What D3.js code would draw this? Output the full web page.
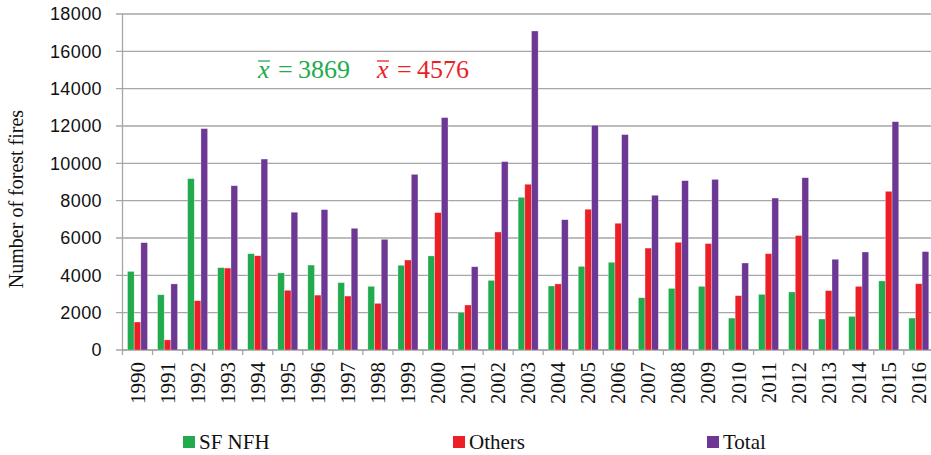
<!DOCTYPE html>
<html><head><meta charset="utf-8">
<script src="https://cdn.jsdelivr.net/npm/d3@7"></script>
<style>body{margin:0;background:#fff}svg{display:block}
.serif{font-family:'Liberation Serif','Times New Roman',serif}
.sans{font-family:'Liberation Sans',Arial,sans-serif}
</style>
</head><body>
<svg id="c" width="931" height="455"></svg>
<script>
const years = ["1990","1991","1992","1993","1994","1995","1996","1997","1998","1999","2000","2001","2002","2003","2004","2005","2006","2007","2008","2009","2010","2011","2012","2013","2014","2015","2016"];
const sfNfh  = [4210,2960,9180,4410,5160,4130,4550,3610,3410,4540,5040,2020,3730,8180,3430,4480,4700,2800,3300,3410,1710,2980,3110,1660,1800,3700,1710];
const others = [1500,540,2640,4390,5050,3200,2940,2890,2500,4820,7360,2410,6320,8880,3540,7540,6790,5460,5770,5700,2910,5160,6130,3180,3410,8500,3550];
const total  = [5750,3540,11860,8800,10230,7380,7520,6520,5930,9410,12450,4460,10090,17090,6980,12040,11540,8290,9070,9140,4660,8140,9230,4860,5250,12230,5270];
const seriesNames = ["SF NFH","Others","Total"];
const colors = ["#22aa4e","#ec1f26","#6c3893"];
const yTicks = [0,2000,4000,6000,8000,10000,12000,14000,16000,18000];
const meanValues = ["3869","4576"];

const svg = d3.select("#c");
const x0 = 122.5, x1 = 122.5 + 27*30.05;
const x = d3.scaleBand().domain(years).range([x0, x1]).padding(0);
const xs = d3.scaleBand().domain(seriesNames).range([5, 25]).padding(0);
const y = d3.scaleLinear().domain([0,18000]).range([350,14]);

// gridlines
svg.append("g").selectAll("line").data(yTicks).join("line")
  .attr("x1", 116).attr("x2", 931)
  .attr("y1", d=>y(d)).attr("y2", d=>y(d))
  .attr("stroke", "#a6a6a6").attr("stroke-width", 1.3);
// y axis line
svg.append("line").attr("x1", x0).attr("x2", x0).attr("y1", y(18000)).attr("y2", y(0))
  .attr("stroke", "#a6a6a6").attr("stroke-width", 1.3);
// y tick labels
svg.append("g").selectAll("text").data(yTicks).join("text")
  .attr("class","sans")
  .attr("x", 102).attr("y", d=>y(d)).attr("dy", "0.36em")
  .attr("text-anchor","end").attr("letter-spacing", 0.4)
  .attr("font-size", 18).attr("fill","#111").text(d=>d);

// x axis ticks
svg.append("g").selectAll("line").data(years.concat(["end"])).join("line")
  .attr("x1", (d,i)=>x0 + i*x.bandwidth()).attr("x2",(d,i)=>x0 + i*x.bandwidth())
  .attr("y1", 350).attr("y2", 355).attr("stroke","#a6a6a6").attr("stroke-width",1.3);
svg.append("line").attr("x1", x0).attr("x2", 931).attr("y1", 350).attr("y2", 350)
  .attr("stroke","#a6a6a6").attr("stroke-width",1.3);

// bars
const data = [sfNfh, others, total];
data.forEach((arr, si) => {
  svg.append("g").selectAll("rect").data(arr).join("rect")
    .attr("x", (d,i)=> x(years[i]) + xs(seriesNames[si]))
    .attr("width", xs.bandwidth())
    .attr("y", d=>y(d)).attr("height", d=>y(0)-y(d))
    .attr("fill", colors[si]).attr("stroke", "#ffffff").attr("stroke-opacity",0.5).attr("stroke-width",0.6);
});

// x labels
svg.append("g").selectAll("text").data(years).join("text")
  .attr("class","serif")
  .attr("transform", d=>`translate(${x(d)+x.bandwidth()/2+7},362) rotate(-90)`)
  .attr("text-anchor","end")
  .attr("font-size", 21).attr("fill","#111").text(d=>d);

// y title
svg.append("text").attr("class","serif").attr("transform","translate(23,199) rotate(-90)")
  .attr("text-anchor","middle")
  .attr("font-size", 20).attr("fill","#111").text("Number of forest fires");

// legend
const legX = [183, 453, 707];
seriesNames.forEach((n,i)=>{
  svg.append("rect").attr("x", legX[i]).attr("y", 436).attr("width", 12).attr("height", 12).attr("fill", colors[i]);
  svg.append("text").attr("class","serif").attr("x", legX[i]+16).attr("y", 449)
    .attr("font-size",21)
    .attr("fill","#111").text(n);
});

// mean annotations
const meanX = [258, 377];
meanValues.forEach((v,i)=>{
  const g = svg.append("g").attr("class","serif").attr("font-size",26).attr("fill", colors[i]);
  g.append("text").attr("x", meanX[i]).attr("y", 78).attr("font-style","italic").text("x");
  g.append("text").attr("x", meanX[i]+20).attr("y", 78).text("=");
  g.append("text").attr("x", meanX[i]+40).attr("y", 78).text(v);
  svg.append("line").attr("x1", meanX[i]).attr("x2", meanX[i]+12).attr("y1", 61).attr("y2", 61)
    .attr("stroke", colors[i]).attr("stroke-width", 1.3);
});
</script>
</body></html>
